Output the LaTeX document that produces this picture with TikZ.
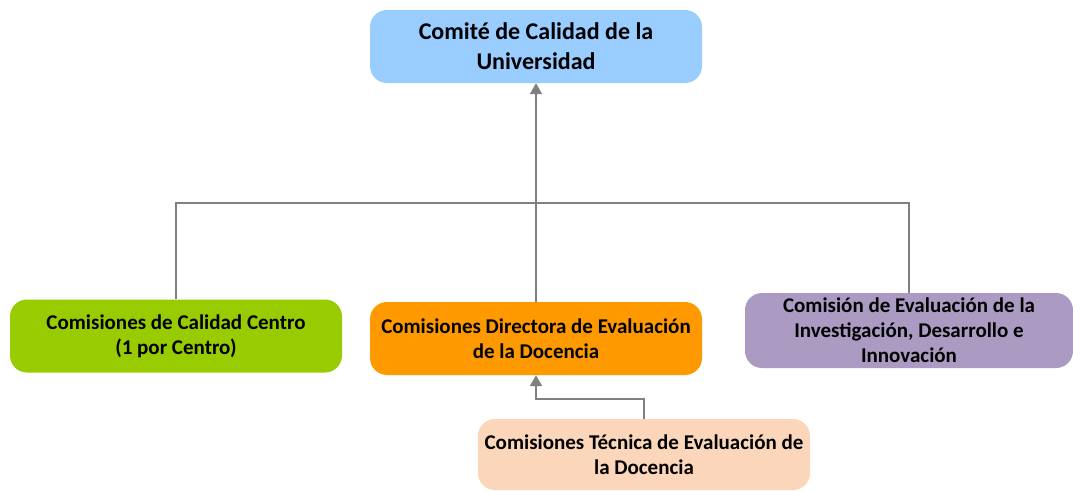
\documentclass[tikz,border=0pt]{standalone}
\usepackage{fontspec}
\setmainfont{Carlito}
\usetikzlibrary{arrows.meta}
\definecolor{cblue}{HTML}{99CCFF}
\definecolor{cgreen}{HTML}{99CC00}
\definecolor{corange}{HTML}{FF9900}
\definecolor{cpurple}{HTML}{AB9BC3}
\definecolor{cpeach}{HTML}{FBD6BA}
\definecolor{cline}{HTML}{808080}
\tikzset{
  box/.style={rounded corners=17pt, minimum width=332pt, minimum height=73pt, align=center, font=\bfseries\fontsize{21}{25}\selectfont, inner sep=0pt},
  conn/.style={draw=cline, line width=2pt},
  arr/.style={conn, -{Triangle[length=11pt,width=12pt]}}
}
\begin{document}
\begin{tikzpicture}[x=1pt,y=-1pt]
\useasboundingbox (0,0) rectangle (1073,490);
\node[box, fill=cblue, font=\bfseries\fontsize{24}{30}\selectfont] (top) at (536,46.5) {Comité de Calidad de la\\Universidad};
\node[box, fill=cgreen] (green) at (176,336) {Comisiones de Calidad Centro\\(1 por Centro)};
\node[box, fill=corange] (orange) at (536,338.5) {Comisiones Directora de Evaluación\\de la Docencia};
\node[box, fill=cpurple, minimum width=328pt, minimum height=75pt] (purple) at (909,330.5) {Comisión de Evaluación de la\\Investigación, Desarrollo e\\Innovación};
\node[box, fill=cpeach, minimum height=71pt] (peach) at (644,454.5) {Comisiones Técnica de Evaluación de\\la Docencia};
\coordinate (hub) at (536,203);
\coordinate (low) at (644,399);
\draw[arr] (orange.north) -- (top.south);
\draw[conn] (green.north) |- (hub) -| (purple.north);
\draw[arr] (peach.north) |- (low -| orange.south) -- (orange.south);
\end{tikzpicture}
\end{document}
